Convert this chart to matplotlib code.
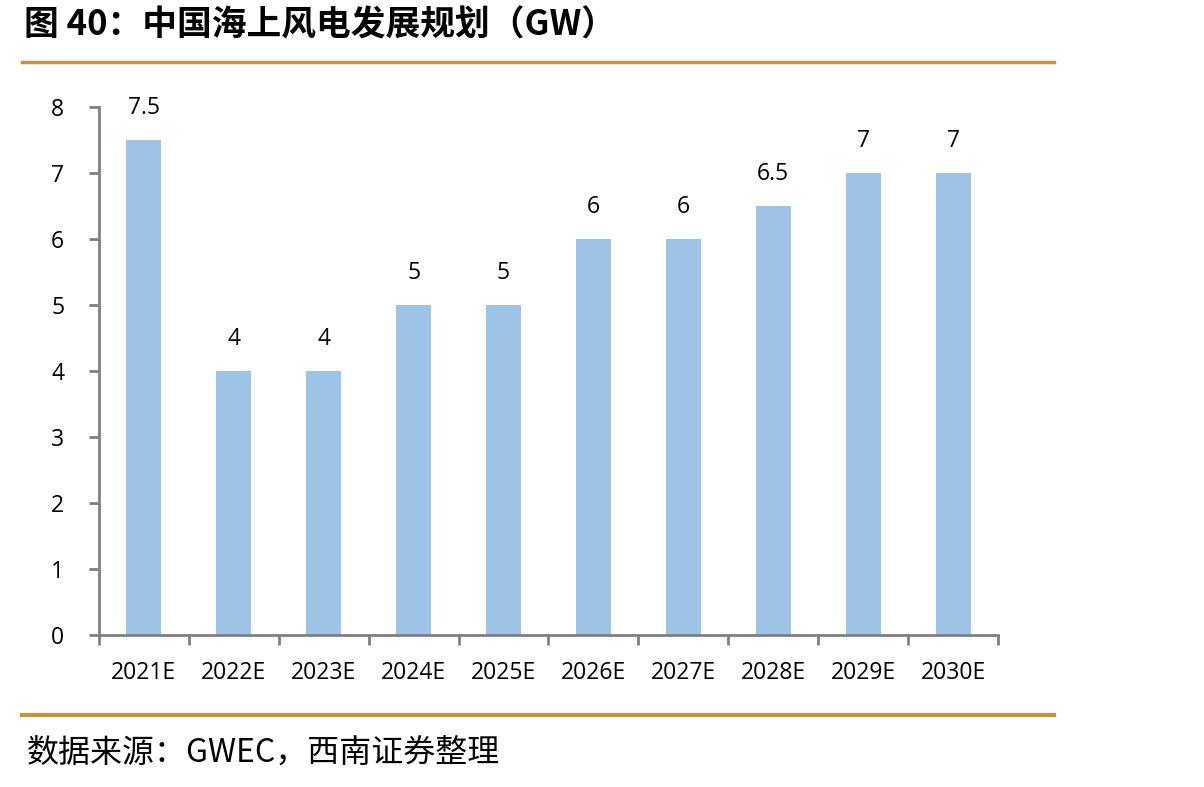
import matplotlib
matplotlib.use('Agg')
from matplotlib import pyplot as plt
from matplotlib.lines import Line2D
import numpy as np

years = ['2021E', '2022E', '2023E', '2024E', '2025E', '2026E', '2027E', '2028E', '2029E', '2030E']
capacity = [7.5, 4, 4, 5, 5, 6, 6, 6.5, 7, 7]
value_labels = ['7.5', '4', '4', '5', '5', '6', '6', '6.5', '7', '7']

plt.rcParams['font.family'] = ['Noto Sans CJK SC', 'DejaVu Sans']

fig = plt.figure(figsize=(12.04, 7.87), dpi=100)
ax = fig.add_axes([0.0822, 0.1931, 0.7467, 0.6709])

x = np.arange(len(years))
bars = ax.bar(x, capacity, width=0.39, color='#9DC3E6', zorder=2)
for xi, v, lab in zip(x, capacity, value_labels):
    ax.text(xi, v + 0.3, lab, ha='center', va='bottom', fontsize=16.5, family='Open Sans')

ax.set_xlim(-0.5, len(years) - 0.5)
ax.set_ylim(0, 8)
ax.set_yticks(range(0, 9))
ax.set_yticklabels([str(i) for i in range(0, 9)], family='Open Sans', fontsize=16.5)
ax.set_xticks(x)
ax.set_xticklabels(years, family='Open Sans', fontsize=16.5)
ax.set_xticks(np.arange(-0.5, len(years)), minor=True)
ax.tick_params(axis='x', which='major', length=0, pad=19)
ax.tick_params(axis='x', which='minor', length=7, width=2, color='#808080', direction='out')
ax.tick_params(axis='y', length=7, width=2, color='#808080', pad=18)
for side in ['top', 'right']:
    ax.spines[side].set_visible(False)
for side in ['left', 'bottom']:
    ax.spines[side].set_color('#808080')
    ax.spines[side].set_linewidth(2)

fig.text(0.02, 0.968, '图 40：中国海上风电发展规划（GW）', fontsize=25, fontweight='bold',
         va='center', ha='left')
fig.add_artist(Line2D([0.018, 0.875], [0.921, 0.921], color='#C8913F', lw=2.5, transform=fig.transFigure))
fig.add_artist(Line2D([0.018, 0.875], [0.091, 0.091], color='#C8913F', lw=3, transform=fig.transFigure))
fig.text(0.022, 0.044, '数据来源：GWEC，西南证券整理', fontsize=23, style='italic', va='center', ha='left')

fig.savefig('out.png', dpi=100)
